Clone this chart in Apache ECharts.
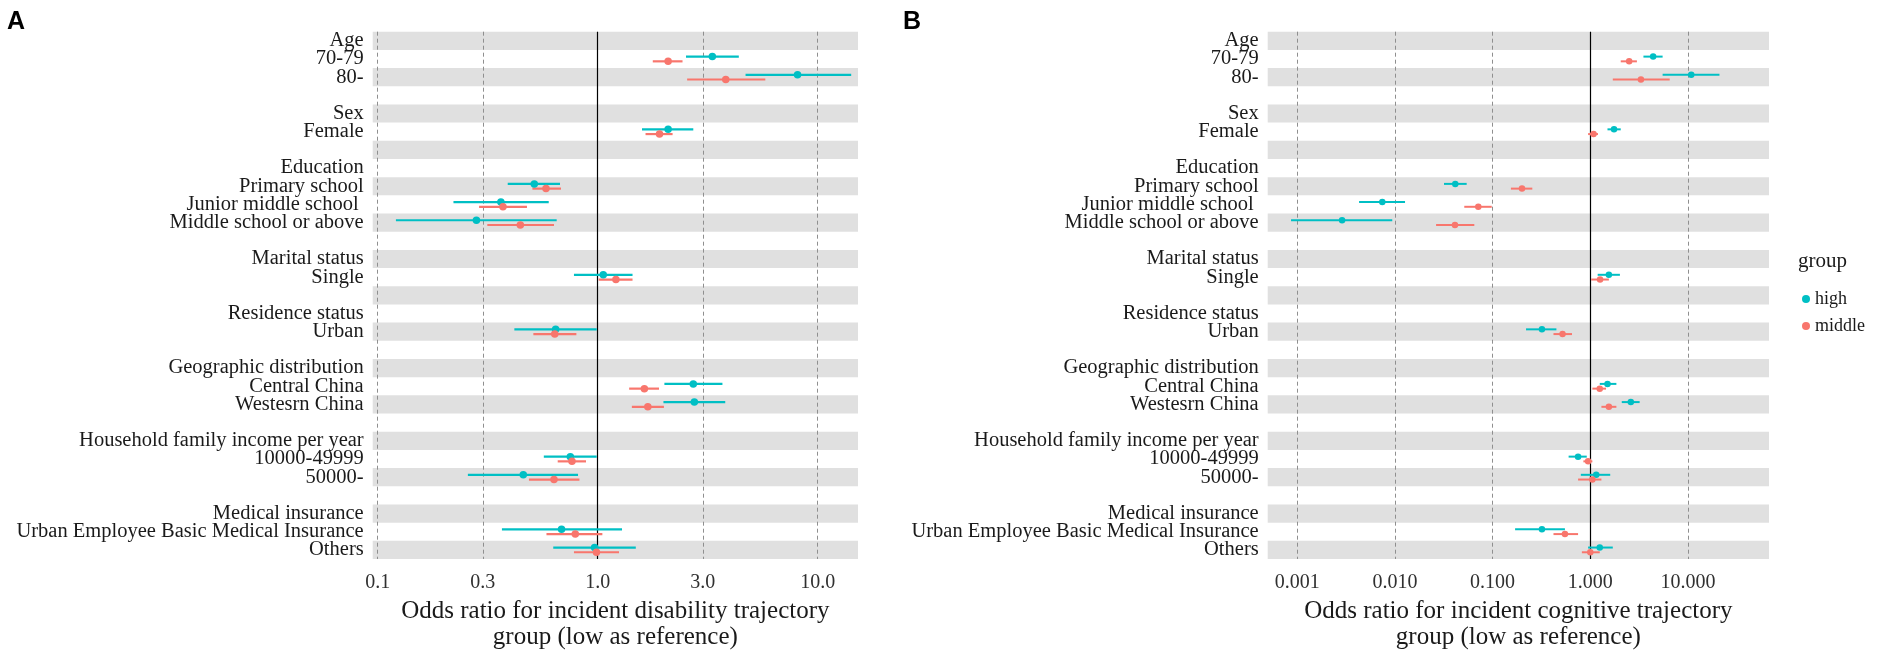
<!DOCTYPE html>
<html>
<head>
<meta charset="utf-8">
<script src="https://cdn.jsdelivr.net/npm/echarts@6/dist/echarts.min.js"></script>
<style>
html,body{margin:0;padding:0;background:#fff;}
#chart{width:1902px;height:652px;}
</style>
</head>
<body>
<div id="chart"></div>
<script>
// ---------- DATA ----------
const rowLabels = ["Age","70-79","80-","","Sex","Female","","Education","Primary school","Junior middle school ","Middle school or above","","Marital status","Single","","Residence status","Urban","","Geographic distribution","Central China","Westesrn China","","Household family income per year","10000-49999","50000-","","Medical insurance","Urban Employee Basic Medical Insurance","Others"];
const dataRows = ["70-79","80-","Female","Primary school","Junior middle school ","Middle school or above","Single","Urban","Central China","Westesrn China","10000-49999","50000-","Urban Employee Basic Medical Insurance","Others"];

// Panel A: disability trajectory
const aHighOR    = [3.32, 8.1, 2.09, 0.515, 0.363, 0.281, 1.06, 0.644, 2.72, 2.75, 0.751, 0.459, 0.685, 0.968];
const aHighLow   = [2.52, 4.7, 1.59, 0.39, 0.221, 0.121, 0.78, 0.418, 2.01, 1.99, 0.569, 0.257, 0.367, 0.628];
const aHighUp    = [4.38, 14.2, 2.72, 0.674, 0.599, 0.651, 1.44, 0.99, 3.69, 3.80, 0.99, 0.814, 1.29, 1.49];
const aMidOR     = [2.09, 3.82, 1.91, 0.582, 0.371, 0.445, 1.21, 0.638, 1.63, 1.69, 0.764, 0.633, 0.791, 0.987];
const aMidLow    = [1.78, 2.55, 1.65, 0.505, 0.289, 0.315, 1.01, 0.51, 1.39, 1.43, 0.658, 0.487, 0.585, 0.78];
const aMidUp     = [2.43, 5.78, 2.19, 0.681, 0.477, 0.633, 1.44, 0.80, 1.90, 2.0, 0.885, 0.826, 1.05, 1.25];

// Panel B: cognitive trajectory
const bHighOR    = [4.4, 10.8, 1.75, 0.0415, 0.00743, 0.00288, 1.55, 0.32, 1.5, 2.6, 0.75, 1.15, 0.32, 1.25];
const bHighLow   = [3.5, 5.5, 1.5, 0.0318, 0.0043, 0.000865, 1.19, 0.22, 1.25, 2.1, 0.6, 0.8, 0.17, 0.95];
const bHighUp    = [5.5, 21, 2.05, 0.0543, 0.0127, 0.0094, 2.01, 0.45, 1.85, 3.2, 0.92, 1.6, 0.55, 1.7];
const bMidOR     = [2.5, 3.3, 1.08, 0.2, 0.0714, 0.0412, 1.26, 0.52, 1.25, 1.55, 0.95, 1.05, 0.55, 1.0];
const bMidLow    = [2.05, 1.7, 0.95, 0.154, 0.0513, 0.0264, 1.02, 0.42, 1.05, 1.3, 0.85, 0.75, 0.42, 0.82];
const bMidUp     = [3.0, 6.5, 1.2, 0.255, 0.098, 0.065, 1.55, 0.65, 1.45, 1.85, 1.05, 1.3, 0.75, 1.25];

const aTicks = [0.1, 0.3, 1, 3, 10];
const aTickLabels = ["0.1", "0.3", "1.0", "3.0", "10.0"];
const bTicks = [0.001, 0.01, 0.1, 1, 10];
const bTickLabels = ["0.001", "0.010", "0.100", "1.000", "10.000"];
const aRange = [0.0949, 15.25];
const bRange = [0.000499, 67.5];

const groups = ["high", "middle"];
const colors = {high: "#00BFC4", middle: "#F8766D"};
const aTitle = "Odds ratio for incident disability trajectory\ngroup (low as reference)";
const bTitle = "Odds ratio for incident cognitive trajectory\ngroup (low as reference)";

// ---------- BUILD ----------
const L = Math.log10;
const serif = "'Liberation Serif','Times New Roman',serif";
const dodge = {high: -0.13, middle: 0.13};
const rowIdx = name => rowLabels.indexOf(name);

function bandAreas() {
  const out = [];
  for (let i = 0; i < rowLabels.length; i += 2) out.push([{yAxis: i - 0.5}, {yAxis: i + 0.5}]);
  return out;
}
function nearestLabel(v, ticks, labels) {
  let best = 0, bd = Infinity;
  ticks.forEach((t, i) => { const d = Math.abs(L(t) - v); if (d < bd) { bd = d; best = i; } });
  return labels[best];
}

const grids = [
  {left: 372.7, top: 31.7, width: 485.3, height: 527.3, outerBoundsMode: 'none', containLabel: false},
  {left: 1267.7, top: 31.7, width: 501.3, height: 527.3, outerBoundsMode: 'none', containLabel: false}
];

function xAxisFor(i, ticks, labels, range, title) {
  return {
    type: 'value', gridIndex: i, min: L(range[0]), max: L(range[1]),
    axisLine: {show: false}, splitLine: {show: false},
    axisTick: {show: false},
    axisLabel: {
      customValues: ticks.map(t => L(t)), margin: 14, showMinLabel: true, showMaxLabel: true,
      fontFamily: serif, fontSize: 20, color: '#303030',
      formatter: v => nearestLabel(v, ticks, labels)
    },
    name: title, nameLocation: 'middle', nameGap: 39,
    nameTextStyle: {fontFamily: serif, fontSize: 25, color: '#1a1a1a', lineHeight: 26}
  };
}
// value axis for marks (no labels)
function yValueAxis(i) {
  return {
    type: 'value', gridIndex: i, position: 'left', min: -0.5, max: rowLabels.length - 0.5, inverse: true,
    axisLine: {show: false}, splitLine: {show: false}, axisTick: {show: false}, axisLabel: {show: false}
  };
}
// category axis carrying the row labels
function yLabelAxis(i) {
  return {
    type: 'category', gridIndex: i, position: 'left', offset: 0, inverse: true, boundaryGap: true,
    data: rowLabels.map((_, k) => String(k)),
    axisLine: {show: false}, splitLine: {show: false}, axisTick: {show: false},
    axisLabel: {
      interval: 0, margin: 9,
      fontFamily: serif, fontSize: 20.5, color: '#1a1a1a',
      formatter: v => rowLabels[+v]
    }
  };
}

const series = [];
function addPanel(i, ticks, est, symSize, lw) {
  series.push({
    type: 'scatter', xAxisIndex: i, yAxisIndex: i, data: [], z: 1, silent: true,
    markArea: {silent: true, itemStyle: {color: '#E0E0E0'}, data: bandAreas()},
    markLine: {
      silent: true, symbol: 'none', label: {show: false},
      data: ticks.map(t => ({xAxis: L(t), lineStyle: t === 1 ? {color: '#000', type: 'solid', width: 1.2} : {color: '#8f8f8f', type: [4, 3], width: 1}}))
    }
  });
  groups.forEach(g => {
    const e = est[g];
    const bars = dataRows.map((r, k) => [L(e.low[k]), L(e.up[k]), rowIdx(r) + dodge[g]]);
    series.push({
      type: 'custom', name: g, xAxisIndex: i, yAxisIndex: i, z: 5,
      itemStyle: {color: colors[g]},
      data: bars, encode: {x: [0, 1], y: 2},
      renderItem: (params, api) => {
        const p1 = api.coord([api.value(0), api.value(2)]);
        const p2 = api.coord([api.value(1), api.value(2)]);
        return {type: 'line', shape: {x1: p1[0], y1: p1[1], x2: p2[0], y2: p2[1]},
                style: {stroke: colors[g], lineWidth: lw}};
      }
    });
    series.push({
      type: 'scatter', name: g, xAxisIndex: i, yAxisIndex: i, z: 6,
      symbol: 'circle', symbolSize: symSize, itemStyle: {color: colors[g], opacity: 1},
      data: dataRows.map((r, k) => [L(e.or[k]), rowIdx(r) + dodge[g]])
    });
  });
}
addPanel(0, aTicks, {high: {or: aHighOR, low: aHighLow, up: aHighUp}, middle: {or: aMidOR, low: aMidLow, up: aMidUp}}, 7.5, 2.2);
addPanel(1, bTicks, {high: {or: bHighOR, low: bHighLow, up: bHighUp}, middle: {or: bMidOR, low: bMidLow, up: bMidUp}}, 6.5, 2);

const chart = echarts.init(document.getElementById('chart'), null, {renderer: 'canvas'});
chart.setOption({
  animation: false,
  backgroundColor: '#fff',
  grid: grids,
  xAxis: [xAxisFor(0, aTicks, aTickLabels, aRange, aTitle), xAxisFor(1, bTicks, bTickLabels, bRange, bTitle)],
  yAxis: [yValueAxis(0), yValueAxis(1), yLabelAxis(0), yLabelAxis(1)],
  title: [{text: 'group', left: 1793, top: 246, textStyle: {fontFamily: serif, fontSize: 21, fontWeight: 'normal', color: '#1a1a1a'}}],
  legend: {
    data: groups.map(g => ({name: g, itemStyle: {color: colors[g]}})),
    orient: 'vertical', left: 1797, top: 285, itemGap: 9,
    icon: 'circle', itemWidth: 8, itemHeight: 8,
    textStyle: {fontFamily: serif, fontSize: 18, color: '#1a1a1a'}
  },
  graphic: [
    {type: 'text', left: 7, top: 10, style: {text: 'A', font: "bold 25px 'Liberation Sans', Arial, sans-serif", fill: '#000'}},
    {type: 'text', left: 903, top: 10, style: {text: 'B', font: "bold 25px 'Liberation Sans', Arial, sans-serif", fill: '#000'}}
  ],
  series: series
});
</script>
</body>
</html>
